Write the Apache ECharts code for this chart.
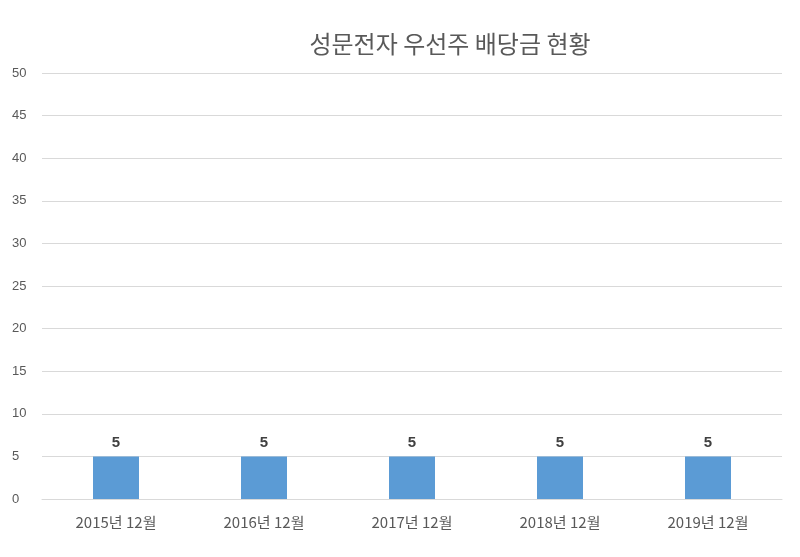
<!DOCTYPE html>
<html><head><meta charset="utf-8">
<script src="https://cdn.jsdelivr.net/npm/echarts@6/dist/echarts.min.js"></script>
<style>html,body{margin:0;padding:0;background:#fff}#c{width:800px;height:557px}</style>
</head><body><div id="c"></div>
<script>
const categories = ['2015년 12월','2016년 12월','2017년 12월','2018년 12월','2019년 12월'];
const values = [5,5,5,5,5];
const title = '성문전자 우선주 배당금 현황';
const chart = echarts.init(document.getElementById('c'));
chart.setOption({
  animation:false,
  title:{text:title,left:445,top:27,textAlign:'center',textStyle:{fontFamily:'Noto Sans CJK KR',fontSize:24,fontWeight:'normal',color:'#595959'}},
  grid:{left:42,right:18,top:73,bottom:58},
  xAxis:{type:'category',data:categories,axisTick:{show:false},axisLine:{lineStyle:{color:'#d9d9d9'}},
    axisLabel:{color:'#595959',fontSize:15,margin:16,fontFamily:'Noto Sans CJK KR'}},
  yAxis:{type:'value',min:0,max:50,interval:5,axisLabel:{color:'#595959',fontSize:13,margin:30,align:'left'},
    splitLine:{lineStyle:{color:'#d9d9d9'}}},
  series:[{type:'bar',data:values,barWidth:46,itemStyle:{color:'#5B9BD5'},
    label:{show:true,position:'top',color:'#404040',fontSize:15,fontWeight:'bold',distance:6}}]
});
</script></body></html>
